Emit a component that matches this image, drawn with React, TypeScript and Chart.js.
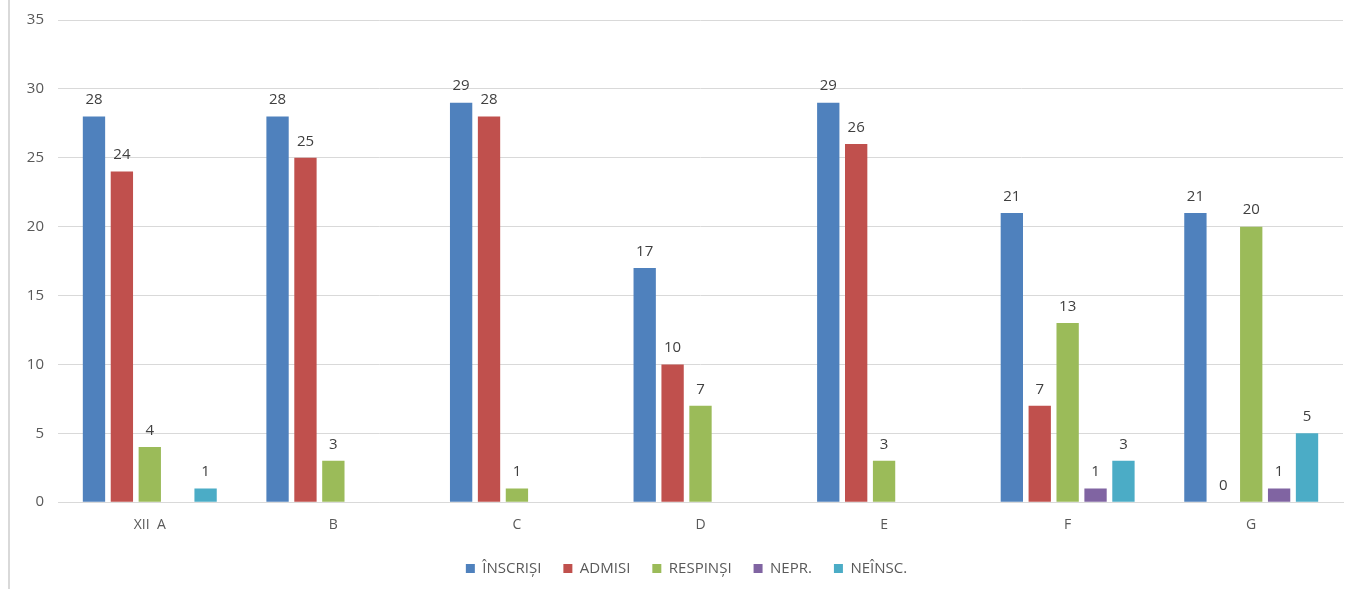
import React, { useEffect, useRef } from "react";
import { Chart, registerables } from "chart.js";

Chart.register(...registerables);

const categories = ["XII \u00a0A", "B", "C", "D", "E", "F", "G"];
const inscrisi = [28, 28, 29, 17, 29, 21, 21];
const admisi = [24, 25, 28, 10, 26, 7, 0];
const respinsi = [4, 3, 1, 7, 3, 13, 20];
const nepr = [null, null, null, null, null, 1, 1];
const neinsc = [1, null, null, null, null, 3, 5];
const yTicks = [0, 5, 10, 15, 20, 25, 30, 35];

const FONT = "'Open Sans', Lato, sans-serif";

const valueLabels = {
  id: "valueLabels",
  afterDatasetsDraw(chart: any) {
    const ctx = chart.ctx;
    ctx.save();
    ctx.font = `15px ${FONT}`;
    ctx.fillStyle = "#404040";
    ctx.textAlign = "center";
    ctx.textBaseline = "bottom";
    chart.data.datasets.forEach((ds: any, i: number) => {
      const meta = chart.getDatasetMeta(i);
      meta.data.forEach((bar: any, j: number) => {
        const v = ds.data[j];
        if (v === null || v === undefined) return;
        ctx.fillText(String(v), bar.x, bar.y - 9);
      });
    });
    ctx.restore();
  },
};

const legendShift = {
  id: "legendShift",
  afterLayout(chart: any) {
    if (chart.legend) {
      chart.legend.left += 10;
      chart.legend.right += 10;
    }
  },
};

export default function App() {
  const ref = useRef<HTMLCanvasElement>(null);
  useEffect(() => {
    if (!ref.current) return;
    const mk = (label: string, data: any[], color: string) => ({
      label,
      data,
      backgroundColor: color,
      borderWidth: 0,
      barPercentage: 0.8,
      categoryPercentage: 0.76,
    });
    const chart = new Chart(ref.current, {
      type: "bar",
      data: {
        labels: categories,
        datasets: [
          mk("ÎNSCRIȘI", inscrisi, "#4F81BD"),
          mk("ADMISI", admisi, "#C0504D"),
          mk("RESPINȘI", respinsi, "#9BBB59"),
          mk("NEPR.", nepr, "#8064A2"),
          mk("NEÎNSC.", neinsc, "#4BACC6"),
        ],
      },
      options: {
        animation: false,
        responsive: true,
        maintainAspectRatio: false,
        layout: { padding: { top: 4, right: 8, bottom: 3, left: 0 } },
        plugins: {
          tooltip: { enabled: false },
          legend: {
            position: "bottom",
            labels: {
              boxWidth: 9,
              boxHeight: 9,
              padding: 22,
              color: "#595959",
              font: { family: FONT, size: 15 },
            },
          },
        },
        scales: {
          x: {
            grid: { display: false, drawTicks: false },
            border: { display: true, color: "#d9d9d9" },
            afterFit: (scale: any) => {
              scale.height = scale.height - 8;
            },
            ticks: {
              color: "#595959",
              font: { family: FONT, size: 14 },
              padding: 14,
            },
          },
          y: {
            min: 0,
            max: 35,
            afterBuildTicks: (scale: any) => {
              scale.ticks = yTicks.map((v) => ({ value: v }));
            },
            afterFit: (scale: any) => {
              scale.width = 48;
            },
            grid: { color: "#d9d9d9", drawTicks: false },
            border: { display: false },
            ticks: {
              color: "#595959",
              font: { family: FONT, size: 15 },
              padding: 14,
            },
          },
        },
      },
      plugins: [valueLabels, legendShift],
    });
    return () => chart.destroy();
  }, []);
  return (
    <div
      style={{
        position: "fixed",
        left: 0,
        top: 0,
        width: 1351,
        height: 589,
        background: "#fff",
        overflow: "hidden",
      }}
    >
      <div
        style={{
          position: "absolute",
          left: 8,
          top: 0,
          width: 1343,
          height: 589,
          borderLeft: "2px solid #d9d9d9",
          boxSizing: "border-box",
        }}
      />
      <div
        style={{
          position: "absolute",
          left: 10,
          top: -3,
          width: 1341,
          height: 592,
        }}
      >
        <canvas ref={ref} />
      </div>
    </div>
  );
}
